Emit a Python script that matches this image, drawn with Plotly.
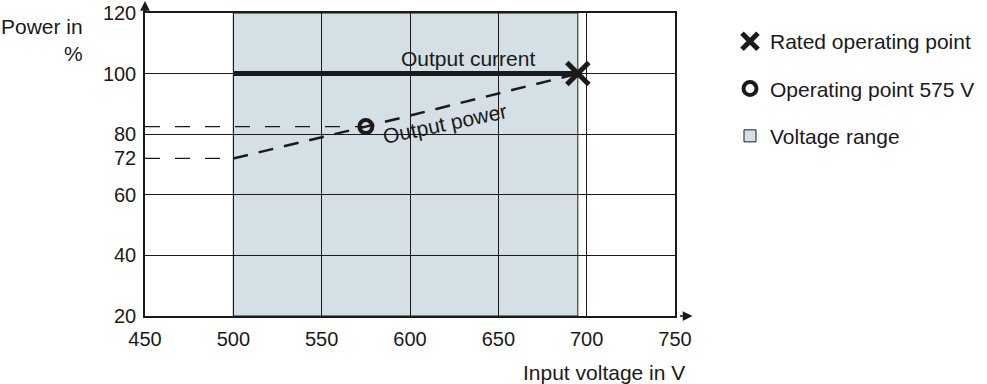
import plotly.graph_objects as go

# data
voltage_range = [500, 695]
current_v = [500, 695]
current_pct = [100, 100]
power_v = [500, 575, 695]
power_pct = [72, 82.5, 100]
rated_v = [695]
rated_pct = [100]
op_v = [575]
op_pct = [82.5]
ref_72_v = [450, 500]
ref_72_pct = [72, 72]
ref_op_v = [450, 575]
ref_op_pct = [82.5, 82.5]

y_ticks = [20, 40, 60, 72, 80, 100, 120]
y_grid = [40, 60, 80, 100]

shade = '#d5dfe6'
ink = '#1a1a1a'
font = "Liberation Sans, Arial, sans-serif"

fig = go.Figure()

# dashed helper lines to the y axis
fig.add_trace(go.Scatter(x=ref_72_v, y=ref_72_pct, mode='lines', showlegend=False,
                         line=dict(color=ink, width=1.3, dash='15px,15px')))
fig.add_trace(go.Scatter(x=ref_op_v, y=ref_op_pct, mode='lines', showlegend=False,
                         line=dict(color=ink, width=1.3, dash='15px,15px')))

fig.add_trace(go.Scatter(x=power_v, y=power_pct, mode='lines', showlegend=False,
                         line=dict(color=ink, width=2.5, dash='15px,11px')))
fig.add_trace(go.Scatter(x=current_v, y=current_pct, mode='lines', showlegend=False,
                         line=dict(color=ink, width=5)))

fig.add_trace(go.Scatter(x=rated_v, y=rated_pct, mode='markers', name='Rated operating point',
                         legendgroup='a',
                         marker=dict(symbol='x-thin-open', size=22, color=ink,
                                     line=dict(color=ink, width=5))))
fig.add_trace(go.Scatter(x=op_v, y=op_pct, mode='markers', name='Operating point 575 V',
                         legendgroup='b',
                         marker=dict(symbol='circle-open', size=13, color=ink,
                                     line=dict(color=ink, width=4))))

# voltage range box, under the grid, with its own legend entry
fig.add_shape(type='rect', xref='x', yref='y',
              x0=voltage_range[0], x1=voltage_range[1], y0=20, y1=120,
              fillcolor=shade, line=dict(color=ink, width=1), layer='below',
              showlegend=True, name='Voltage range', legendgroup='c')

fig.add_annotation(x=633, y=105, text='Output current', showarrow=False,
                   font=dict(size=21, color=ink))
fig.add_annotation(x=620, y=83.4, text='Output power', showarrow=False,
                   textangle=-12, font=dict(size=21, color=ink))

# axis titles
fig.add_annotation(xref='paper', yref='paper', x=-0.113, y=1.0, xanchor='right', yanchor='top',
                   text='Power in<br>%', align='right', showarrow=False,
                   font=dict(size=21, color=ink))
fig.add_annotation(xref='paper', yref='paper', x=1.0226, y=-0.188, xanchor='right', yanchor='middle',
                   text='Input voltage in V', showarrow=False,
                   font=dict(size=21, color=ink))

# axis arrows
fig.add_annotation(xref='x', yref='paper', x=450, y=1.04, ax=0, ay=13, text='',
                   showarrow=True, arrowhead=2, arrowsize=1.3, arrowwidth=1.5, arrowcolor=ink)
fig.add_annotation(xref='paper', yref='y', x=1.033, y=20, ax=-14, ay=0, text='',
                   showarrow=True, arrowhead=2, arrowsize=1.3, arrowwidth=1.5, arrowcolor=ink)

fig.update_xaxes(range=[450, 750], tick0=450, dtick=50, showgrid=True, gridcolor=ink, gridwidth=1,
                 zeroline=False, showline=True, linecolor=ink, linewidth=1.5, mirror=True,
                 tickfont=dict(size=20, color=ink), ticks='', ticklabelstandoff=4,
                 ticklabeloverflow='allow', automargin=False, layer='above traces')
fig.update_yaxes(range=[20, 120], tickmode='array', tickvals=y_ticks, showgrid=False,
                 minor=dict(tickmode='array', tickvals=y_grid, showgrid=True, gridcolor=ink, gridwidth=1),
                 zeroline=False, showline=True, linecolor=ink, linewidth=1.5, mirror=True,
                 tickfont=dict(size=20, color=ink), ticks='', ticklabelstandoff=3,
                 ticklabeloverflow='allow', automargin=False)

fig.update_layout(width=987, height=384,
                  margin=dict(l=145, r=312, t=13, b=68, autoexpand=False),
                  plot_bgcolor='white', paper_bgcolor='white',
                  font=dict(family=font, color=ink),
                  legend=dict(xref='container', yref='container', x=0.7396, y=0.945,
                              xanchor='left', yanchor='top',
                              font=dict(size=21, color=ink), tracegroupgap=17,
                              itemsizing='trace', bgcolor='rgba(0,0,0,0)'))

# drop the browser's default 8px body margin so the figure sits at the page corner
fig.write_html("out.html", config={'displayModeBar': False},
               post_script="document.body.style.margin = '0';")
